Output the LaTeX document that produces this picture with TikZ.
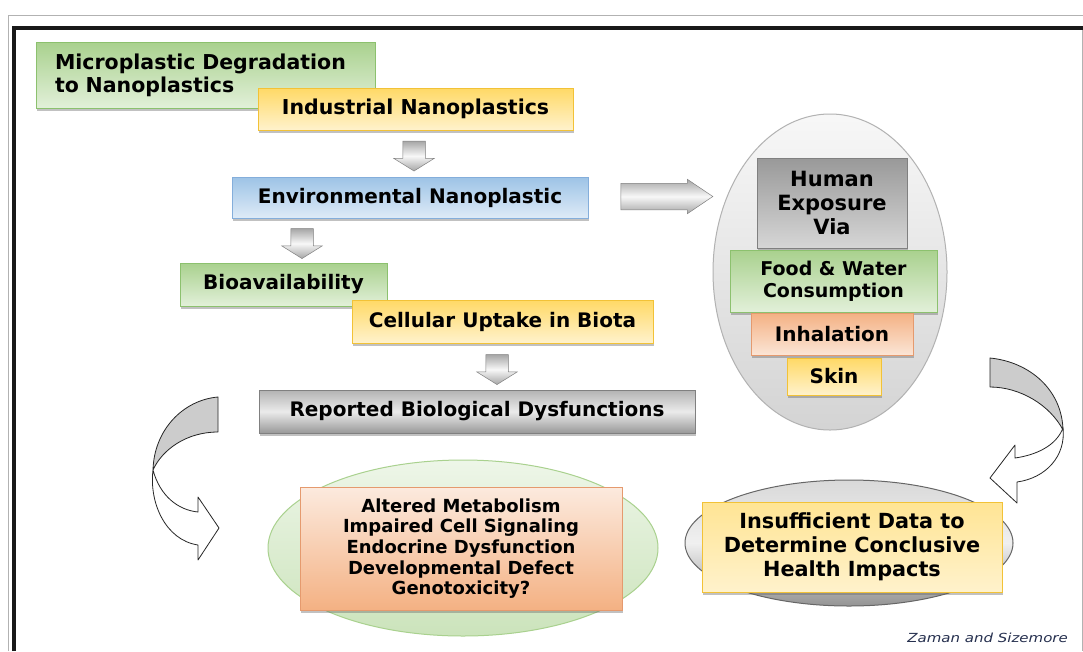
\documentclass[tikz,border=0pt]{standalone}
\usepackage{fontspec}
\setmainfont{DejaVu Sans}
\usepackage{graphicx}
\usetikzlibrary{shapes.geometric,shapes.arrows,shadows}

% fill colours of the boxes
\definecolor{grnT}{HTML}{A9D18E}
\definecolor{grnB}{HTML}{E2F0D9}
\definecolor{grnD}{HTML}{8CC16E}
\definecolor{ylwT}{HTML}{FFD966}
\definecolor{ylwB}{HTML}{FFF2CC}
\definecolor{ylwD}{HTML}{F2C237}
\definecolor{bluT}{HTML}{9DC3E6}
\definecolor{bluB}{HTML}{DEEBF7}
\definecolor{bluD}{HTML}{84AEDB}
\definecolor{salT}{HTML}{F4B183}
\definecolor{salB}{HTML}{FBE5D6}
\definecolor{salD}{HTML}{E59A6E}
\definecolor{gryD}{HTML}{808080}
\definecolor{cite}{HTML}{26304F}

\begin{document}
\begin{tikzpicture}[x=1pt,y=-1pt,
  box/.style={draw, line width=0.8pt, inner sep=0pt, align=center,
    font=\bfseries\fontsize{20}{23}\selectfont,
    drop shadow={shadow xshift=1.2pt, shadow yshift=-2.5pt, opacity=0.4, fill=black!60}},
  greenbox/.style={box, draw=grnD, top color=grnT, bottom color=grnB},
  yellowbox/.style={box, draw=ylwD, top color=ylwT, bottom color=ylwB},
  bluebox/.style={box, draw=bluD, top color=bluT, bottom color=bluB},
  salmonbox/.style={box, draw=salD, top color=salT, bottom color=salB},
  graybox/.style={box, draw=gryD, top color=black!30, bottom color=black!40, middle color=black!8},
  darkbox/.style={box, draw=gryD, top color=black!40, bottom color=black!16},
  blockarrow/.style={single arrow, draw=black!50, line width=0.5pt, inner xsep=0pt,
    top color=black!35, bottom color=black!35, middle color=black!3},
  downarrow/.style={blockarrow, rotate=-90, inner ysep=11pt, minimum height=30pt,
    single arrow head extend=9pt, single arrow tip angle=116},
  curvedarrow/.style={draw=black!85, line width=0.8pt, line join=round},
]
\useasboundingbox (0,0) rectangle (1083,651);
\fill[white] (0,0) rectangle (1083,651);

% page frame
\draw[black!30, line width=1pt] (8.5,651) -- (8.5,15) -- (1083,15);
\draw[black!30, line width=1pt] (1082,30) -- (1082,651);
\draw[black!90, line width=4pt] (14,651) -- (14,27.5) -- (1083,27.5);

% source chain
\node[greenbox, minimum width=339pt, minimum height=66pt, text width=301pt, align=left,
  font=\bfseries\fontsize{20.5}{23}\selectfont]
  (micro) at (205.5,75) {Microplastic Degradation\\to Nanoplastics};
\node[yellowbox, minimum width=315pt, minimum height=42pt,
  font=\bfseries\fontsize{20.5}{23}\selectfont] (indus) at (415.5,109) {Industrial Nanoplastics};
\node[downarrow] (a1) at (414,152.5) {};
\node[bluebox, minimum width=356pt, minimum height=41pt] (env) at (410,197.5) {Environmental Nanoplastic};
\node[downarrow] (a2) at (302,240) {};
\node[greenbox, minimum width=207pt, minimum height=43pt] (bio) at (283.5,284.5) {Bioavailability};
\node[yellowbox, minimum width=301pt, minimum height=43pt] (cell) at (502.5,321.5) {Cellular Uptake in Biota};
\node[downarrow] (a3) at (497,366) {};
\node[graybox, minimum width=436pt, minimum height=43pt] (rep) at (477,411.5) {Reported Biological Dysfunctions};

% exposure routes
\node[blockarrow, minimum height=92pt, inner ysep=13pt, single arrow head extend=4pt,
  single arrow tip angle=68] (a4) at (657,196.5) {};
\node[ellipse, draw=black!30, line width=1pt, top color=black!3, bottom color=black!17,
  minimum width=234pt, minimum height=316pt] (route) at (830,272) {};
\node[darkbox, minimum width=150pt, minimum height=90pt,
  font=\bfseries\fontsize{21}{24}\selectfont] (human) at (832,203) {Human\\Exposure\\Via};
\node[greenbox, minimum width=207pt, minimum height=62pt, font=\bfseries\fontsize{19}{22}\selectfont]
  (food) at (833.5,281) {Food \& Water\\Consumption};
\node[salmonbox, minimum width=162pt, minimum height=42pt] (inhal) at (832,334) {Inhalation};
\node[yellowbox, minimum width=94pt, minimum height=37pt] (skin) at (834,376.5) {Skin};

% outcomes
\node[ellipse, draw=grnT, line width=1pt, top color=grnB!60, bottom color=grnT!60,
  minimum width=390pt, minimum height=176pt] (effects) at (463,548) {};
\node[salmonbox, top color=salB!80, bottom color=salT, minimum width=322pt, minimum height=123pt,
  font=\bfseries\fontsize{18}{20.6}\selectfont] (alt) at (461,548.5)
  {Altered Metabolism\\Impaired Cell Signaling\\Endocrine Dysfunction\\Developmental Defect\\Genotoxicity?};
\node[ellipse, draw=black!60, line width=1pt, top color=black!15, bottom color=black!42, middle color=black!6,
  minimum width=328pt, minimum height=126pt] (gap) at (849,543) {};
\node[yellowbox, top color=ylwT!70, bottom color=ylwB, minimum width=300pt, minimum height=90pt,
  font=\bfseries\fontsize{20.8}{24}\selectfont] (insuf) at (852,547)
  {Insufficient Data to\\Determine Conclusive\\Health Impacts};

% curved arrows leading to the outcomes
\filldraw[curvedarrow, fill=white] (153,470) .. controls (149,502) and (165,540) .. (198,545)
  -- (198,560) -- (219,528) -- (198,497) -- (198,512)
  .. controls (178,510) and (160,496) .. (153,470) -- cycle;
\filldraw[curvedarrow, fill=black!20] (218,397) .. controls (183,400) and (154,430) .. (153,470)
  .. controls (162,450) and (186,432) .. (218,432) -- cycle;
\filldraw[curvedarrow, fill=white] (1063,428) .. controls (1066,456) and (1046,478) .. (1017,482)
  -- (1017,503) -- (990,478) -- (1015,445) -- (1015,458)
  .. controls (1036,455) and (1056,446) .. (1063,428) -- cycle;
\filldraw[curvedarrow, fill=black!20] (990,358) .. controls (1030,362) and (1062,390) .. (1063,430)
  .. controls (1050,405) and (1020,387) .. (990,387) -- cycle;

% credit line
\node[anchor=east, inner sep=0pt, text=cite, font=\itshape\fontsize{12.5}{14}\selectfont]
  (credit) at (1068,638) {\scalebox{1.2}[1]{Zaman and Sizemore}};
\end{tikzpicture}
\end{document}
